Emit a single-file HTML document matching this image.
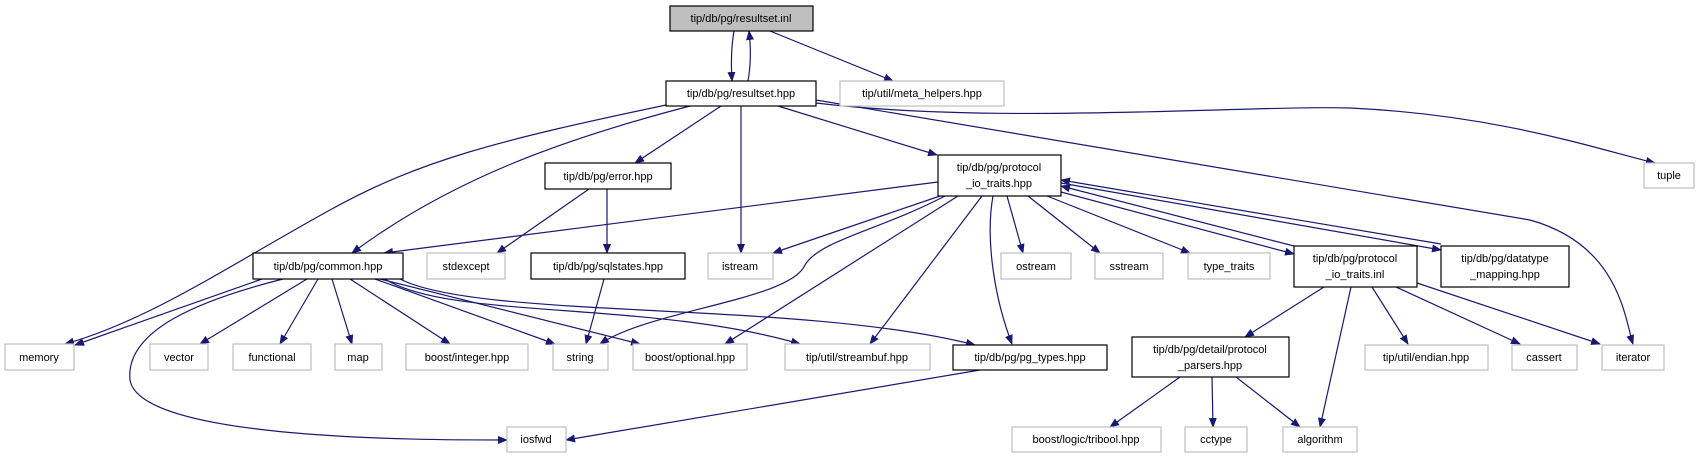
<!DOCTYPE html>
<html><head><meta charset="utf-8"><style>
html,body{margin:0;padding:0;background:#fff;}
svg{display:block;}
text{font-family:"Liberation Sans",sans-serif;font-size:11px;fill:#000;text-anchor:middle;}
.e{fill:none;stroke:#191970;stroke-width:1.2;marker-end:url(#a);}
.n{fill:#fff;stroke:#000;stroke-width:1.2;}
.g{fill:#fff;stroke:#bfbfbf;stroke-width:1.2;}
</style></head><body>
<svg width="1700" height="459" viewBox="0 0 1700 459" xmlns="http://www.w3.org/2000/svg">
<defs><marker id="a" markerWidth="10" markerHeight="8" refX="9" refY="4" orient="auto" markerUnits="userSpaceOnUse"><path d="M0,0 L10,4 L0,8 z" fill="#191970"/></marker></defs>

<!-- edges -->
<path class="e" d="M734,31 C731,48 731,65 732,81"/>
<path class="e" d="M748,81 C751,64 751,48 749,31"/>
<path class="e" d="M770,31 L893,81"/>
<path class="e" d="M816,103 C1000,125 1250,105 1350,108 C1500,115 1600,150 1655,163"/>
<path class="e" d="M816,100 L1530,220 C1620,245 1625,320 1633,344"/>
<path class="e" d="M778,106 L937,155"/>
<path class="e" d="M741,106 L741,253"/>
<path class="e" d="M721,106 L635,163"/>
<path class="e" d="M690,106 C560,140 450,180 352,253"/>
<path class="e" d="M666,105 C500,140 420,160 330,210 C230,265 150,320 65,344"/>
<path class="e" d="M589,189 L497,253"/>
<path class="e" d="M607,189 L607,253"/>
<path class="e" d="M604,279 L586,344"/>
<path class="e" d="M938,182 L384,253"/>
<path class="e" d="M940,196 L773,253"/>
<path class="e" d="M945,196 C880,230 820,240 805,265 C790,300 650,310 600,344"/>
<path class="e" d="M958,196 L725,344"/>
<path class="e" d="M982,196 L870,344"/>
<path class="e" d="M993,196 C985,240 995,300 1012,344"/>
<path class="e" d="M1007,196 L1023,253"/>
<path class="e" d="M1028,196 L1100,253"/>
<path class="e" d="M1047,196 L1190,253"/>
<path class="e" d="M1061,192 L1294,254"/>
<path class="e" d="M1294,246 L1061,186"/>
<path class="e" d="M1061,183 L1441,250"/>
<path class="e" d="M1441,244 L1061,180"/>
<path class="e" d="M262,279 L75,345"/>
<path class="e" d="M283,279 C200,300 125,330 130,380 C140,440 420,440 507,440"/>
<path class="e" d="M307,279 L200,344"/>
<path class="e" d="M318,279 L280,344"/>
<path class="e" d="M332,279 L352,344"/>
<path class="e" d="M350,279 L450,344"/>
<path class="e" d="M375,279 L555,344"/>
<path class="e" d="M380,279 L640,344"/>
<path class="e" d="M385,279 C450,320 650,300 800,344"/>
<path class="e" d="M400,279 C480,320 800,300 975,345"/>
<path class="e" d="M980,370 L566,440"/>
<path class="e" d="M1324,287 L1245,337"/>
<path class="e" d="M1351,287 L1320,427"/>
<path class="e" d="M1372,287 L1408,344"/>
<path class="e" d="M1396,287 L1520,344"/>
<path class="e" d="M1417,283 L1600,344"/>
<path class="e" d="M1180,377 L1110,427"/>
<path class="e" d="M1212,377 L1213,427"/>
<path class="e" d="M1236,377 L1300,427"/>

<!-- nodes -->
<rect x="670" y="6" width="143" height="25" fill="#bfbfbf" stroke="#000" stroke-width="1.2"/><text x="741" y="22">tip/db/pg/resultset.inl</text>
<rect class="n" x="666" y="81" width="150" height="25"/><text x="741" y="97">tip/db/pg/resultset.hpp</text>
<rect class="g" x="840" y="81" width="164" height="25"/><text x="922" y="97">tip/util/meta_helpers.hpp</text>
<rect class="n" x="545" y="163" width="126" height="26"/><text x="608" y="180">tip/db/pg/error.hpp</text>
<rect class="n" x="938" y="155" width="123" height="41"/><text x="999" y="171">tip/db/pg/protocol</text><text x="999" y="187">_io_traits.hpp</text>
<rect class="g" x="1644" y="163" width="50" height="25"/><text x="1669" y="179">tuple</text>

<rect class="n" x="253" y="253" width="150" height="26"/><text x="328" y="270">tip/db/pg/common.hpp</text>
<rect class="g" x="427" y="253" width="78" height="26"/><text x="466" y="270">stdexcept</text>
<rect class="n" x="531" y="253" width="154" height="26"/><text x="608" y="270">tip/db/pg/sqlstates.hpp</text>
<rect class="g" x="708" y="253" width="65" height="26"/><text x="740" y="270">istream</text>
<rect class="g" x="1001" y="253" width="70" height="26"/><text x="1036" y="270">ostream</text>
<rect class="g" x="1095" y="253" width="68" height="26"/><text x="1129" y="270">sstream</text>
<rect class="g" x="1188" y="253" width="82" height="26"/><text x="1229" y="270">type_traits</text>
<rect class="n" x="1294" y="246" width="123" height="41"/><text x="1355" y="262">tip/db/pg/protocol</text><text x="1355" y="278">_io_traits.inl</text>
<rect class="n" x="1441" y="246" width="128" height="41"/><text x="1505" y="262">tip/db/pg/datatype</text><text x="1505" y="278">_mapping.hpp</text>

<rect class="g" x="5" y="344" width="69" height="26"/><text x="39" y="361">memory</text>
<rect class="g" x="150" y="344" width="58" height="26"/><text x="179" y="361">vector</text>
<rect class="g" x="233" y="344" width="78" height="26"/><text x="272" y="361">functional</text>
<rect class="g" x="335" y="344" width="47" height="26"/><text x="358" y="361">map</text>
<rect class="g" x="406" y="344" width="122" height="26"/><text x="467" y="361">boost/integer.hpp</text>
<rect class="g" x="553" y="344" width="55" height="26"/><text x="580" y="361">string</text>
<rect class="g" x="633" y="344" width="114" height="26"/><text x="690" y="361">boost/optional.hpp</text>
<rect class="g" x="785" y="344" width="145" height="26"/><text x="857" y="361">tip/util/streambuf.hpp</text>
<rect class="n" x="953" y="345" width="154" height="25"/><text x="1030" y="361">tip/db/pg/pg_types.hpp</text>
<rect class="n" x="1132" y="337" width="157" height="40"/><text x="1210" y="353">tip/db/pg/detail/protocol</text><text x="1210" y="369">_parsers.hpp</text>
<rect class="g" x="1365" y="345" width="123" height="25"/><text x="1426" y="361">tip/util/endian.hpp</text>
<rect class="g" x="1512" y="345" width="65" height="25"/><text x="1544" y="361">cassert</text>
<rect class="g" x="1602" y="345" width="62" height="25"/><text x="1633" y="361">iterator</text>

<rect class="g" x="507" y="427" width="59" height="25"/><text x="536" y="443">iosfwd</text>
<rect class="g" x="1012" y="427" width="149" height="25"/><text x="1086" y="443">boost/logic/tribool.hpp</text>
<rect class="g" x="1185" y="427" width="62" height="25"/><text x="1216" y="443">cctype</text>
<rect class="g" x="1283" y="427" width="74" height="25"/><text x="1320" y="443">algorithm</text>
</svg>
</body></html>
